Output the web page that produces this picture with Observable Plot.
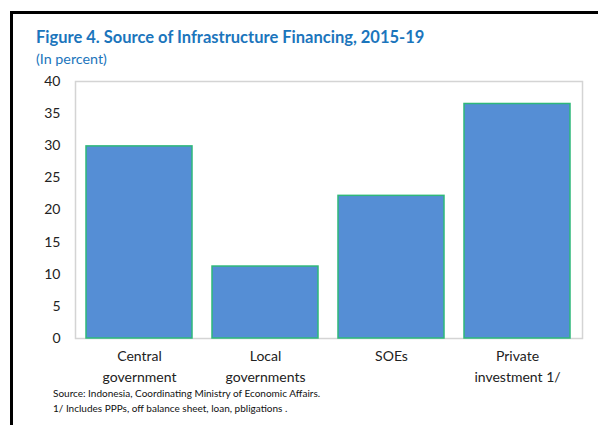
<!DOCTYPE html>
<html><head><meta charset="utf-8">
<script src="https://cdn.jsdelivr.net/npm/d3@7"></script>
<script src="https://cdn.jsdelivr.net/npm/@observablehq/plot@0.6"></script>
<style>
html,body{margin:0;padding:0;background:#fff;}
#wrap{position:relative;width:598px;height:425px;overflow:hidden;font-family:Lato,"Open Sans",sans-serif;}
#frame{position:absolute;left:10px;top:11px;width:700px;height:500px;border-left:3px solid #000;border-top:3px solid #000;}
#title{position:absolute;left:36px;top:27px;font-size:16.5px;font-weight:bold;color:#1B75BC;white-space:nowrap;}
#sub{position:absolute;left:36px;top:50px;font-size:14.3px;color:#1B75BC;}
#chart{position:absolute;left:0;top:70px;}
#cap{position:absolute;left:53px;top:386px;font-size:10px;line-height:15px;color:#111;}
</style></head>
<body><div id="wrap">
<div id="frame"></div>
<div id="title">Figure 4. Source of Infrastructure Financing, 2015-19</div>
<div id="sub">(In percent)</div>
<div id="chart"></div>
<div id="cap">Source: Indonesia, Coordinating Ministry of Economic Affairs.<br>1/ Includes PPPs, off balance sheet, loan, pbligations .</div>
</div>
<script>
const categories = ["Central government", "Local governments", "SOEs", "Private investment 1/"];
const categoryLabels = ["Central\ngovernment", "Local\ngovernments", "SOEs", "Private\ninvestment 1/"];
const values = [29.9, 11.2, 22.2, 36.5];
const yTicks = [0, 5, 10, 15, 20, 25, 30, 35, 40];

const data = categories.map((c, i) => ({category: c, value: values[i]}));
const labelOf = new Map(categories.map((c, i) => [c, categoryLabels[i]]));

const plot = Plot.plot({
  width: 598,
  height: 320,
  marginLeft: 75,
  marginRight: 16,
  marginTop: 11,
  marginBottom: 52,
  style: {fontFamily: "Lato, 'Open Sans', sans-serif", fontSize: "14px", color: "#222"},
  x: {domain: categories, paddingInner: 0.158, paddingOuter: 0.079, label: null},
  y: {domain: [0, 40], ticks: yTicks, label: null},
  marks: [
    Plot.frame({stroke: "#d4d4d4", strokeWidth: 1.5}),
    Plot.barY(data, {x: "category", y: "value", fill: "#558ED5", stroke: "#2EB87A", strokeWidth: 1.5}),
    Plot.axisY({ticks: yTicks, tickSize: 0, tickPadding: 15, label: null, fontSize: 14}),
    Plot.axisX({tickSize: 0, tickPadding: 8, label: null, fontSize: 14, lineHeight: 1.5, tickFormat: d => labelOf.get(d)})
  ]
});
document.getElementById("chart").appendChild(plot);
</script>
</body></html>
